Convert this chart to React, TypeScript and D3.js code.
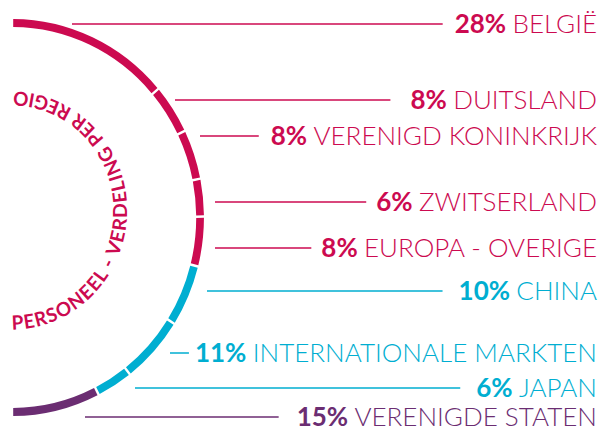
import { useEffect, useRef } from "react";
import * as d3 from "d3";

// regions and their share of personnel (%)
const regions = [
  "BELGIË",
  "DUITSLAND",
  "VERENIGD KONINKRIJK",
  "ZWITSERLAND",
  "EUROPA - OVERIGE",
  "CHINA",
  "INTERNATIONALE MARKTEN",
  "JAPAN",
  "VERENIGDE STATEN",
];
const shares = [28, 8, 8, 6, 8, 10, 11, 6, 15];
const zones = ["eu", "eu", "eu", "eu", "eu", "asia", "asia", "asia", "us"];

// label layout: vertical position, where the leader line starts, gap before text
const labelY = [24, 100, 136, 202, 248, 291, 353, 388, 417];
const leaderStart = [72, 175, 200, 215, 215, 207, 170, 135, 85];
const leaderGap = [12, 20, 12, 10, 10, 16, 6, 16, 18];

const title = "PERSONEEL - VERDELING PER REGIO";

const colors: Record<string, string> = {
  eu: "#cc0a50",
  asia: "#00aed1",
  us: "#6b2d72",
};

const W = 601;
const H = 428;

export default function App() {
  const ref = useRef<SVGSVGElement | null>(null);

  useEffect(() => {
    document.body.style.margin = "0";
    const svg = d3.select(ref.current);
    svg.selectAll("*").remove();

    const cx = 12;
    const cy = 217.5;
    const r = 194.5;
    const sx = 0.967; // the ring is slightly squeezed horizontally

    const pie = d3
      .pie<number>()
      .sort(null)
      .startAngle(0)
      .endAngle(Math.PI)
      .padAngle(0.009)
      .value((d) => d);

    const arc = d3
      .arc<d3.PieArcDatum<number>>()
      .innerRadius(r - 4)
      .outerRadius(r + 4);

    svg
      .append("g")
      .attr("transform", `translate(${cx},${cy}) scale(${sx},1)`)
      .selectAll("path")
      .data(pie(shares))
      .join("path")
      .attr("d", arc)
      .attr("fill", (_, i) => colors[zones[i]]);

    // curved title along an inner half circle
    const tr = 119;
    const tcy = 210.5;
    const tg = svg
      .append("g")
      .attr("transform", `translate(${cx},${tcy}) scale(${sx},1)`);
    tg.append("path")
      .attr("id", "titlePath")
      .attr("fill", "none")
      .attr("d", `M0,${tr} A${tr},${tr} 0 0 0 0,${-tr}`);
    tg.append("text")
      .attr("font-family", "Lato, 'Open Sans', sans-serif")
      .attr("font-size", 19.5)
      .attr("font-weight", 700)
      .attr("fill", colors.eu)
      .append("textPath")
      .attr("href", "#titlePath")
      .attr("textLength", Math.PI * tr - 2)
      .attr("lengthAdjust", "spacing")
      .text(title);

    // labels with leader lines
    const fs = 26;
    regions.forEach((name, i) => {
      const c = colors[zones[i]];
      const t = svg
        .append("text")
        .attr("x", W - 4)
        .attr("y", labelY[i])
        .attr("dy", "0.36em")
        .attr("text-anchor", "end")
        .attr("font-family", "Lato, 'Open Sans', sans-serif")
        .attr("font-size", fs)
        .attr("fill", c);
      t.append("tspan").attr("font-weight", 700).text(`${shares[i]}% `);
      t.append("tspan").attr("font-weight", 300).text(name);

      const box = (t.node() as SVGTextElement).getBBox();
      svg
        .append("line")
        .attr("x1", leaderStart[i])
        .attr("x2", box.x - leaderGap[i])
        .attr("y1", labelY[i])
        .attr("y2", labelY[i])
        .attr("stroke", c)
        .attr("stroke-width", 1.5);
    });
  }, []);

  return (
    <svg
      ref={ref}
      width={W}
      height={H}
      viewBox={`0 0 ${W} ${H}`}
      style={{ display: "block", background: "#fff" }}
    />
  );
}
